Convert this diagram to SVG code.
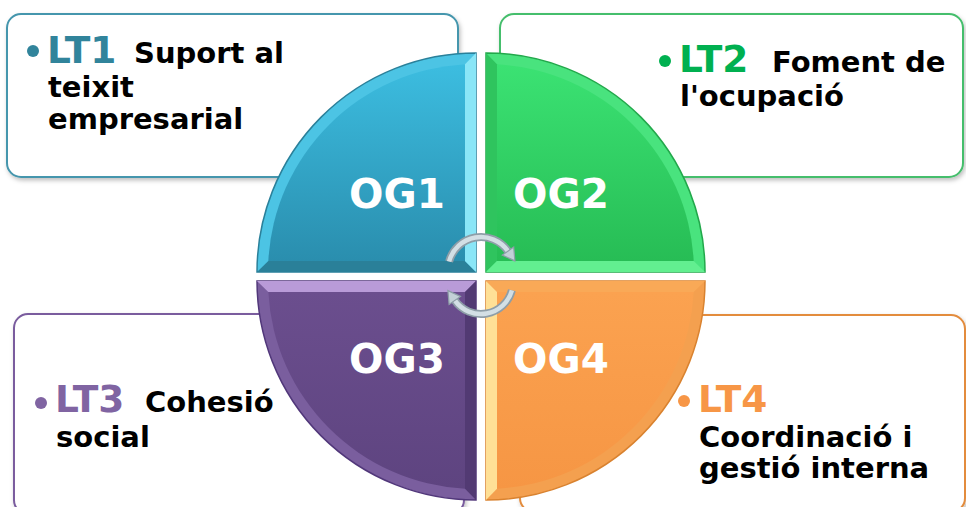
<svg xmlns="http://www.w3.org/2000/svg" width="966" height="507" viewBox="0 0 966 507">
<defs>
<style>
.box{fill:#fff;stroke-width:2;filter:url(#sh)}
.t{font-family:"DejaVu Sans",Verdana,sans-serif;font-weight:bold}
.lt{font-size:37.5px}
.bk{font-size:29px;fill:#000}
.og{font-size:40.5px;fill:#fff}
.arcO{fill:none;stroke:#8e9ea8;stroke-width:8}
.arcI{fill:none;stroke:#d3dfe5;stroke-width:4.5}
</style>
<filter id="sh" x="-5%" y="-5%" width="115%" height="120%">
<feDropShadow dx="1.5" dy="2.5" stdDeviation="2" flood-color="#000" flood-opacity="0.25"/>
</filter>
<linearGradient id="g1" x1="0" y1="0" x2="0" y2="1"><stop offset="0" stop-color="#3cbde0"/><stop offset="1" stop-color="#2a8eae"/></linearGradient>
<linearGradient id="g2" x1="0" y1="0" x2="0" y2="1"><stop offset="0" stop-color="#3be273"/><stop offset="1" stop-color="#27bd55"/></linearGradient>
<linearGradient id="g3" x1="0" y1="0" x2="0" y2="1"><stop offset="0" stop-color="#6b4e8e"/><stop offset="1" stop-color="#5e4480"/></linearGradient>
<linearGradient id="g4" x1="0" y1="0" x2="0" y2="1"><stop offset="0" stop-color="#fba250"/><stop offset="1" stop-color="#f69644"/></linearGradient>
</defs>
<rect width="966" height="507" fill="#fff"/>

<g id="LT1">
<rect class="box" x="7" y="14" width="451" height="163" rx="14" stroke="#4596ad"/>
<circle cx="33" cy="51" r="6" fill="#31849b"/>
<text class="t lt" x="47" y="63" fill="#31849b">LT1</text>
<text class="t bk" x="134" y="63">Suport al</text>
<text class="t bk" x="48" y="97">teixit</text>
<text class="t bk" x="48" y="129">empresarial</text>
</g>

<g id="LT2">
<rect class="box" x="500" y="14" width="463" height="163" rx="14" stroke="#45be6c"/>
<circle cx="665" cy="61" r="6" fill="#00b050"/>
<text class="t lt" x="679" y="72" fill="#00b050">LT2</text>
<text class="t bk" x="772" y="72">Foment de</text>
<text class="t bk" x="680" y="106">l'ocupació</text>
</g>

<g id="LT3">
<rect class="box" x="14" y="314" width="450" height="200" rx="14" stroke="#7a5c9e"/>
<circle cx="41" cy="403" r="6" fill="#8064a2"/>
<text class="t lt" x="55" y="412" fill="#8064a2">LT3</text>
<text class="t bk" x="145" y="412">Cohesió</text>
<text class="t bk" x="56" y="447">social</text>
</g>

<g id="LT4">
<rect class="box" x="520" y="315" width="445" height="197" rx="14" stroke="#e38c3e"/>
<circle cx="684" cy="401" r="6" fill="#f79646"/>
<text class="t lt" x="698" y="412" fill="#f79646">LT4</text>
<text class="t bk" x="699" y="447">Coordinació i</text>
<text class="t bk" x="699" y="478">gestió interna</text>
</g>

<g id="OG1">
<path d="M476,272 H257 A219,219 0 0 1 476,53 Z" fill="#4cc4e4" stroke="#2a809a" stroke-width="1.5"/>
<path d="M257,272 H476 L465,261 H268.3 Z" fill="#2a8099"/>
<path d="M476,53 V272 L465,261 V64.3 Z" fill="#8ae6f7"/>
<path d="M465,261 H268.3 A208,208 0 0 1 465,64.3 Z" fill="url(#g1)"/>
<text class="t og" x="349" y="208">OG1</text>
</g>

<g id="OG2">
<path d="M486,272 V53 A219,219 0 0 1 705,272 Z" fill="#49e37e" stroke="#22a84b" stroke-width="1.5"/>
<path d="M486,53 V272 L497,261 V64.3 Z" fill="#2fc45e"/>
<path d="M486,272 H705 L693.7,261 H497 Z" fill="#62ef90"/>
<path d="M497,261 V64.3 A208,208 0 0 1 693.7,261 Z" fill="url(#g2)"/>
<text class="t og" x="513" y="208">OG2</text>
</g>

<g id="OG3">
<path d="M476,281 V500 A219,219 0 0 1 257,281 Z" fill="#7a5e9e" stroke="#51377a" stroke-width="1.5"/>
<path d="M257,281 H476 L465,292 H268.3 Z" fill="#b99bd8"/>
<path d="M476,281 V500 L465,488.7 V292 Z" fill="#523a73"/>
<path d="M465,292 V488.7 A208,208 0 0 1 268.3,292 Z" fill="url(#g3)"/>
<text class="t og" x="349" y="373">OG3</text>
</g>

<g id="OG4">
<path d="M486,281 H705 A219,219 0 0 1 486,500 Z" fill="#f4a04f" stroke="#d9822f" stroke-width="1.5"/>
<path d="M486,281 H705 L693.7,292 H497 Z" fill="#f9a957"/>
<path d="M486,281 V500 L497,488.7 V292 Z" fill="#ffe096"/>
<path d="M497,292 H693.7 A208,208 0 0 1 497,488.7 Z" fill="url(#g4)"/>
<text class="t og" x="513" y="373">OG4</text>
</g>

<g id="connectors">
<path class="arcO" d="M449.1,261.5 A33,33 0 0 1 508,251.1"/>
<path class="arcI" d="M449.1,261.5 A33,33 0 0 1 508,251.1"/>
<polygon points="514.9,260.9 513.7,247.1 502.3,255.1" fill="#c3d0d7" stroke="#8e9ea8" stroke-width="1.2"/>
<path class="arcO" d="M511.9,290.3 A32,32 0 0 1 454.8,300.4"/>
<path class="arcI" d="M511.9,290.3 A32,32 0 0 1 454.8,300.4"/>
<polygon points="447.9,290.6 449.1,304.4 460.5,296.4" fill="#c3d0d7" stroke="#8e9ea8" stroke-width="1.2"/>
</g>
</svg>
